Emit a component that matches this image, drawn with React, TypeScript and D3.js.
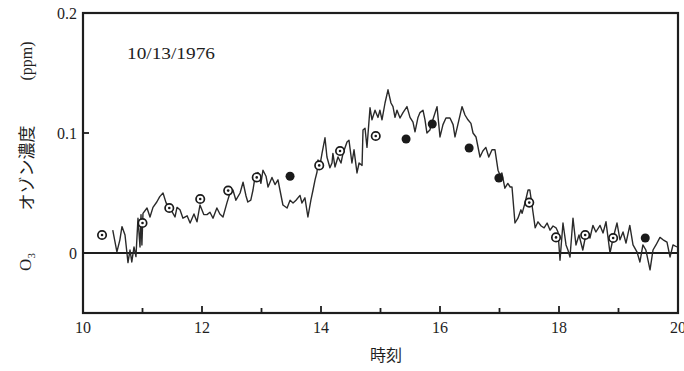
import React from 'react';
import * as d3 from 'd3';

// continuous O3 record, [hour, ppm]
const o3Trace: [number, number][] = [
  [10.5, 0.019], [10.57, 0.001], [10.62, 0.011], [10.655, 0.022], [10.706, 0.015],
  [10.756, -0.008], [10.79, 0.0025], [10.82, -0.0075], [10.857, 0.005], [10.89, -0.003],
  [10.924, 0.029], [10.94, 0.0175], [10.958, 0.005], [10.975, 0.032], [10.99, 0.0067],
  [11.008, 0.033], [11.076, 0.0375], [11.126, 0.03], [11.176, 0.038], [11.24, 0.0425],
  [11.29, 0.047], [11.345, 0.05], [11.395, 0.042], [11.43, 0.0375], [11.48, 0.036],
  [11.546, 0.03], [11.58, 0.038], [11.63, 0.036], [11.68, 0.029], [11.75, 0.031],
  [11.8, 0.025], [11.865, 0.0325], [11.916, 0.026], [11.966, 0.04], [12.03, 0.032],
  [12.084, 0.032], [12.134, 0.034], [12.185, 0.029], [12.25, 0.0375], [12.3, 0.0325],
  [12.353, 0.03], [12.42, 0.042], [12.47, 0.05], [12.52, 0.0525], [12.57, 0.044],
  [12.64, 0.05], [12.69, 0.059], [12.74, 0.0475], [12.77, 0.0425], [12.82, 0.044],
  [12.857, 0.0525], [12.89, 0.063], [12.94, 0.067], [12.99, 0.058], [13.025, 0.069],
  [13.076, 0.064], [13.11, 0.055], [13.176, 0.063], [13.227, 0.057], [13.277, 0.061],
  [13.31, 0.0525], [13.36, 0.04], [13.43, 0.0375], [13.48, 0.044], [13.53, 0.0417],
  [13.58, 0.044], [13.647, 0.048], [13.68, 0.0417], [13.73, 0.046], [13.78, 0.03],
  [13.83, 0.044], [13.866, 0.0525], [13.9, 0.061], [13.933, 0.0675], [13.95, 0.0775],
  [13.98, 0.0725], [14.017, 0.083], [14.067, 0.096], [14.1, 0.08], [14.15, 0.071],
  [14.185, 0.075], [14.2, 0.083], [14.235, 0.0717], [14.286, 0.08], [14.336, 0.075],
  [14.37, 0.083], [14.437, 0.0925], [14.47, 0.094], [14.52, 0.075], [14.555, 0.086],
  [14.605, 0.0667], [14.64, 0.075], [14.69, 0.073], [14.706, 0.1025], [14.74, 0.104],
  [14.773, 0.088], [14.824, 0.121], [14.857, 0.111], [14.908, 0.119], [14.958, 0.113],
  [14.99, 0.119], [15.025, 0.111], [15.076, 0.125], [15.126, 0.136], [15.176, 0.125],
  [15.21, 0.122], [15.244, 0.113], [15.277, 0.119], [15.328, 0.1125], [15.378, 0.117],
  [15.445, 0.122], [15.496, 0.113], [15.546, 0.109], [15.58, 0.101], [15.63, 0.113],
  [15.664, 0.117], [15.714, 0.119], [15.748, 0.111], [15.78, 0.1], [15.83, 0.1025],
  [15.88, 0.111], [15.95, 0.122], [16.0, 0.0967], [16.05, 0.107], [16.1, 0.1125],
  [16.168, 0.1125], [16.22, 0.107], [16.252, 0.0967], [16.3, 0.107], [16.37, 0.122],
  [16.42, 0.115], [16.47, 0.111], [16.52, 0.108], [16.555, 0.1], [16.605, 0.0967],
  [16.672, 0.08], [16.72, 0.085], [16.77, 0.088], [16.82, 0.08], [16.874, 0.086],
  [16.924, 0.086], [16.975, 0.069], [17.008, 0.065], [17.04, 0.0667], [17.09, 0.054],
  [17.14, 0.058], [17.18, 0.055], [17.21, 0.055], [17.26, 0.025], [17.31, 0.029],
  [17.36, 0.036], [17.38, 0.033], [17.43, 0.042], [17.48, 0.0525], [17.51, 0.0525],
  [17.546, 0.04], [17.6, 0.021], [17.647, 0.026], [17.7, 0.0225], [17.75, 0.021],
  [17.8, 0.025], [17.85, 0.019], [17.9, 0.0225], [17.95, 0.021], [17.983, 0.0175],
  [18.017, -0.006], [18.067, 0.025], [18.118, 0.0067], [18.15, 0.0025], [18.185, -0.0033],
  [18.235, 0.029], [18.285, 0.0067], [18.336, 0.015], [18.4, 0.0025], [18.45, 0.015],
  [18.52, 0.0125], [18.57, 0.023], [18.62, 0.0175], [18.69, 0.023], [18.74, 0.0167],
  [18.79, 0.026], [18.857, 0.0], [18.91, 0.0125], [18.975, 0.025], [19.025, 0.011],
  [19.076, 0.0175], [19.126, 0.0083], [19.19, 0.023], [19.244, 0.0067], [19.31, 0.001],
  [19.36, -0.0075], [19.41, 0.0067], [19.46, 0.0025], [19.53, -0.014], [19.58, 0.0025],
  [19.63, 0.0067], [19.697, 0.013], [19.75, 0.011], [19.815, 0.009], [19.866, -0.0033],
  [19.916, 0.0067], [19.983, 0.005],
];

// spot samples: open rings and filled dots
const openSamples: [number, number][] = [
  [10.32, 0.015], [11.0, 0.025], [11.45, 0.0375], [11.97, 0.045], [12.44, 0.052],
  [12.92, 0.063], [13.97, 0.073], [14.32, 0.085], [14.92, 0.0975], [17.5, 0.042],
  [17.95, 0.013], [18.44, 0.015], [18.91, 0.0125],
];
const filledSamples: [number, number][] = [
  [13.48, 0.064], [15.43, 0.095], [15.87, 0.1075], [16.49, 0.0875], [16.99, 0.0625],
  [19.45, 0.0125],
];

const xTicks = [10, 11, 12, 13, 14, 15, 16, 17, 18, 19, 20];
const xLabels = [10, 12, 14, 16, 18, 20];
const yLabels = [0, 0.1, 0.2];

const W = 684;
const H = 371;
const serif = '"Liberation Serif", "DejaVu Serif", serif';
const jp = '"Noto Sans CJK JP", sans-serif';
const ink = '#1e1e1e';

export default function App() {
  const x = d3.scaleLinear().domain([10, 20]).range([83, 678]);
  const y = d3.scaleLinear().domain([-0.05, 0.2]).range([313, 13]);
  const [x0, x1] = x.range();
  const [yb, yt] = y.range();

  const line = d3.line<[number, number]>()
    .x(d => x(d[0]))
    .y(d => y(d[1]));

  return (
    <svg width={W} height={H} style={{ position: 'absolute', left: 0, top: 0, background: '#fff' }}>
      {/* frame */}
      <rect x={x0} y={yt} width={x1 - x0} height={yb - yt} fill="none" stroke={ink} strokeWidth={2.2} />

      {/* zero line */}
      <line x1={x0} x2={x1} y1={y(0)} y2={y(0)} stroke={ink} strokeWidth={1.8} />

      {/* bottom ticks, inward */}
      {xTicks.map(t => (
        <line key={'xt' + t} x1={x(t)} x2={x(t)} y1={yb} y2={yb - (t % 2 === 0 ? 7 : 5)}
          stroke={ink} strokeWidth={1.8} />
      ))}
      {xLabels.map(t => (
        <text key={'xl' + t} x={x(t)} y={yb + 20} textAnchor="middle"
          fontFamily={serif} fontSize={16} fill={ink}>{t}</text>
      ))}

      {/* left ticks */}
      {yLabels.map(v => (
        <line key={'yt' + v} x1={x0} x2={x0 + 6} y1={y(v)} y2={y(v)} stroke={ink} strokeWidth={1.8} />
      ))}
      {yLabels.map(v => (
        <text key={'yl' + v} x={x0 - 6} y={y(v)} dy="0.35em" textAnchor="end"
          fontFamily={serif} fontSize={16} fill={ink}>{v === 0 ? '0' : v.toFixed(1)}</text>
      ))}

      {/* O3 trace */}
      <path d={line(o3Trace) ?? ''} fill="none" stroke="#2a2a2a" strokeWidth={1.4} strokeLinejoin="round" />

      {openSamples.map((d, i) => (
        <g key={'o' + i}>
          <circle cx={x(d[0])} cy={y(d[1])} r={4.2} fill="#fff" stroke="#1a1a1a" strokeWidth={1.7} />
          <circle cx={x(d[0])} cy={y(d[1])} r={1.3} fill="#1a1a1a" />
        </g>
      ))}
      {filledSamples.map((d, i) => (
        <circle key={'f' + i} cx={x(d[0])} cy={y(d[1])} r={4.5} fill="#1a1a1a" />
      ))}

      {/* date */}
      <text x={127} y={59} fontFamily={serif} fontSize={17} fill={ink} textLength={88} lengthAdjust="spacingAndGlyphs">10/13/1976</text>

      {/* axis titles */}
      <text transform="translate(31,262) rotate(-90)" textAnchor="middle" fontFamily={serif} fontSize={17} fill={ink}>
        O<tspan fontSize={11} dy={4}>3</tspan>
      </text>
      <text transform="translate(33,168) rotate(-90)" textAnchor="middle" fontFamily={jp} fontSize={17} fill={ink}>
        オゾン濃度
      </text>
      <text transform="translate(32,61) rotate(-90)" textAnchor="middle" fontFamily={serif} fontSize={16} fill={ink}>
        (ppm)
      </text>
      <text x={386} y={361} textAnchor="middle" fontFamily={jp} fontSize={16} fill={ink}>時刻</text>
    </svg>
  );
}
